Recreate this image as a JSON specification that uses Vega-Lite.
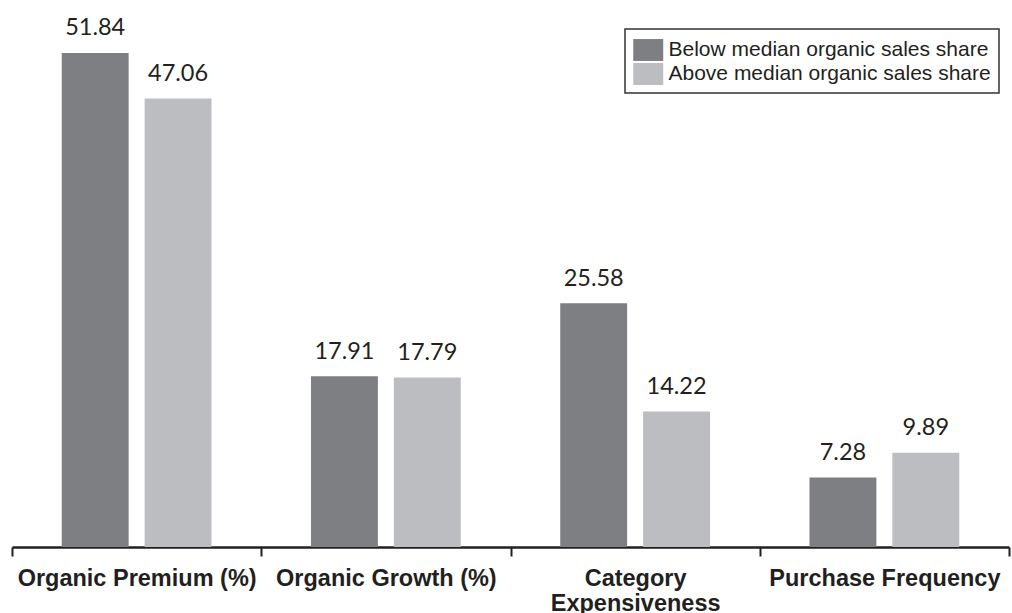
{
  "$schema": "https://vega.github.io/schema/vega-lite/v6.json",
  "width": 997,
  "height": 547,
  "autosize": {"type": "none"},
  "padding": {"left": 12, "top": 0, "right": 3, "bottom": 66},
  "background": "white",
  "config": {"view": {"stroke": null}},
  "data": {
    "values": [
      {"category": "Organic Premium (%)", "group": "Below median organic sales share", "value": 51.84},
      {"category": "Organic Premium (%)", "group": "Above median organic sales share", "value": 47.06},
      {"category": "Organic Growth (%)", "group": "Below median organic sales share", "value": 17.91},
      {"category": "Organic Growth (%)", "group": "Above median organic sales share", "value": 17.79},
      {"category": "Category Expensiveness", "group": "Below median organic sales share", "value": 25.58},
      {"category": "Category Expensiveness", "group": "Above median organic sales share", "value": 14.22},
      {"category": "Purchase Frequency", "group": "Below median organic sales share", "value": 7.28},
      {"category": "Purchase Frequency", "group": "Above median organic sales share", "value": 9.89}
    ]
  },
  "encoding": {
    "x": {
      "field": "category",
      "type": "nominal",
      "sort": ["Organic Premium (%)", "Organic Growth (%)", "Category Expensiveness", "Purchase Frequency"],
      "scale": {"paddingInner": 0, "paddingOuter": 0},
      "axis": {
        "title": null,
        "labelAngle": 0,
        "domainColor": "#231f20",
        "domainWidth": 2.5,
        "tickColor": "#231f20",
        "tickWidth": 2,
        "tickSize": 9,
        "tickBand": "extent",
        "labelFont": "Liberation Sans",
        "labelFontWeight": "bold",
        "labelFontSize": 23.5,
        "labelColor": "#231f20",
        "labelBaseline": "alphabetic",
        "labelPadding": 29,
        "labelLineHeight": 25,
        "labelLimit": 0,
        "labelOverlap": false,
        "labelExpr": "datum.value == 'Category Expensiveness' ? ['Category', 'Expensiveness'] : datum.label"
      }
    },
    "xOffset": {
      "field": "group",
      "type": "nominal",
      "sort": ["Below median organic sales share", "Above median organic sales share"],
      "scale": {"paddingInner": 0.193, "paddingOuter": 0.6}
    },
    "y": {
      "field": "value",
      "type": "quantitative",
      "scale": {"domain": [0, 57.4], "nice": false, "zero": true},
      "axis": null
    }
  },
  "layer": [
    {
      "mark": {"type": "bar"},
      "encoding": {
        "color": {
          "field": "group",
          "type": "nominal",
          "sort": ["Below median organic sales share", "Above median organic sales share"],
          "scale": {
            "domain": ["Below median organic sales share", "Above median organic sales share"],
            "range": ["#7e7f83", "#bcbdc1"]
          },
          "legend": {
            "title": null,
            "orient": "none",
            "legendX": 613,
            "legendY": 29,
            "strokeColor": "#333333",
            "fillColor": "white",
            "padding": 8,
            "symbolType": "M-1.0,-0.86H1.35V0.86H-1.0Z",
            "symbolSize": 650,
            "symbolStrokeWidth": 0,
            "symbolOpacity": 1,
            "labelFont": "Liberation Sans",
            "labelFontSize": 21,
            "labelColor": "#231f20",
            "labelOffset": 9.5,
            "labelLimit": 0,
            "rowPadding": 0,
            "labelExpr": "datum.label + '\u00a0\u00a0'",
            "encode": {"legend": {"update": {"strokeWidth": {"value": 1.5}}}}
          }
        }
      }
    },
    {
      "mark": {
        "type": "text",
        "baseline": "alphabetic",
        "dy": -17.5,
        "font": "Lato",
        "fontSize": 23.5,
        "color": "#231f20"
      },
      "encoding": {
        "text": {"field": "value", "type": "quantitative", "format": ".2f"}
      }
    }
  ]
}
